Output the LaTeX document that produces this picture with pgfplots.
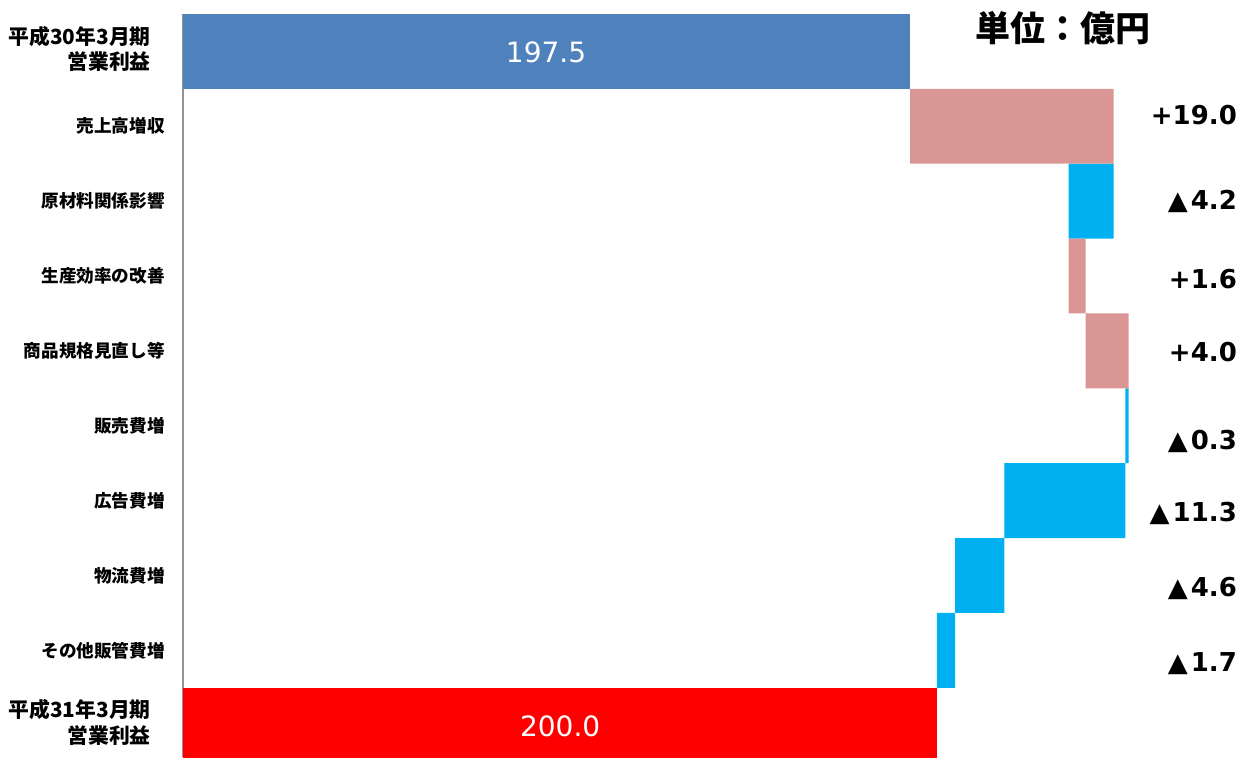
\documentclass[border=0pt]{standalone}
\usepackage{fontspec}
\usepackage{pgfplots}
\usepackage{pgfplotstable}
\pgfplotsset{compat=1.18}
\newfontfamily\jp{Noto Sans CJK JP}
\newfontfamily\dv{DejaVu Sans}
\definecolor{cstart}{HTML}{4F81BD}
\definecolor{cinc}{HTML}{D99694}
\definecolor{cdec}{HTML}{00B0F0}
\definecolor{cend}{HTML}{FF0000}
\newcommand\twol[1]{{\fontsize{10.4}{12.5}\selectfont\begin{tabular}{@{}r@{}}#1\end{tabular}}\hspace*{7pt}}
\newcommand\tri{{\mdseries ▲}\kern1.5pt}
\pgfplotstableread{
row base start finish inc dec
0 0 197.5 0 0 0
1 197.5 0 0 19.0 0
2 212.3 0 0 0 4.2
3 212.3 0 0 1.6 0
4 213.9 0 0 4.0 0
5 217.6 0 0 0 0.3
6 206.3 0 0 0 11.3
7 201.7 0 0 0 4.6
8 200.0 0 0 0 1.7
9 0 0 200.0 0 0
}\wfdata
\begin{document}
\begin{tikzpicture}
\begin{axis}[
  name=a, at={(0,0)}, anchor=south west,
  scale only axis, width=530pt, height=371.5pt,
  xbar stacked, bar width=1,
  xmin=129.56, xmax=228.6,
  ymin=-0.5, ymax=9.425, y dir=reverse,
  axis x line=none, axis y line=left,
  y axis line style={-, draw=gray!85, line width=1pt},
  xtick=\empty,
  ytick={0,...,9}, major tick length=0pt,
  yticklabels={
    {\twol{平成30年3月期\\営業利益}},
    売上高増収, 原材料関係影響, 生産効率の改善, 商品規格見直し等,
    販売費増, 広告費増, 物流費増, その他販管費増,
    {\twol{平成31年3月期\\営業利益}}},
  yticklabel style={font=\jp\bfseries\fontsize{8.8}{11}\selectfont, inner sep=0pt, xshift=-9pt},
]
\addplot[draw=none, fill=none] table[x=base, y=row] {\wfdata};
\addplot[draw=none, fill=cstart] table[x=start, y=row] {\wfdata};
\addplot[draw=none, fill=cend] table[x=finish, y=row] {\wfdata};
\addplot[draw=none, fill=cinc] table[x=inc, y=row] {\wfdata};
\addplot[draw=none, fill=cdec] table[x=dec, y=row] {\wfdata};

\coordinate (l0) at (axis cs:163.48,0.01);
\coordinate (l9) at (axis cs:164.8,9.02);
\coordinate (tt) at (axis cs:211.8,-0.313);
\coordinate (v1) at (axis cs:228.06,0.849);
\coordinate (v2) at (axis cs:228.06,1.998);
\coordinate (v3) at (axis cs:228.06,3.040);
\coordinate (v4) at (axis cs:228.06,4.015);
\coordinate (v5) at (axis cs:228.06,5.204);
\coordinate (v6) at (axis cs:228.06,6.166);
\coordinate (v7) at (axis cs:228.06,7.168);
\coordinate (v8) at (axis cs:228.06,8.183);
\end{axis}
\node[text=white, font=\dv\fontsize{14}{16}\selectfont] at (l0) {197.5};
\node[text=white, font=\dv\fontsize{14}{16}\selectfont] at (l9) {200.0};
\node[font=\jp\bfseries\fontsize{17.5}{20}\selectfont] at (tt) {単位：億円};
\begin{scope}[every node/.style={anchor=east, font=\dv\bfseries\fontsize{13}{15}\selectfont, inner sep=0pt}]
\node at (v1) {+19.0};
\node at (v2) {\tri4.2};
\node at (v3) {+1.6};
\node at (v4) {+4.0};
\node at (v5) {\tri0.3};
\node at (v6) {\tri11.3};
\node at (v7) {\tri4.6};
\node at (v8) {\tri1.7};
\end{scope}
\pgfresetboundingbox
\path ([xshift=-91.5pt]a.south west) rectangle ([xshift=530pt, yshift=378.5pt]a.south west);
\end{tikzpicture}
\end{document}
